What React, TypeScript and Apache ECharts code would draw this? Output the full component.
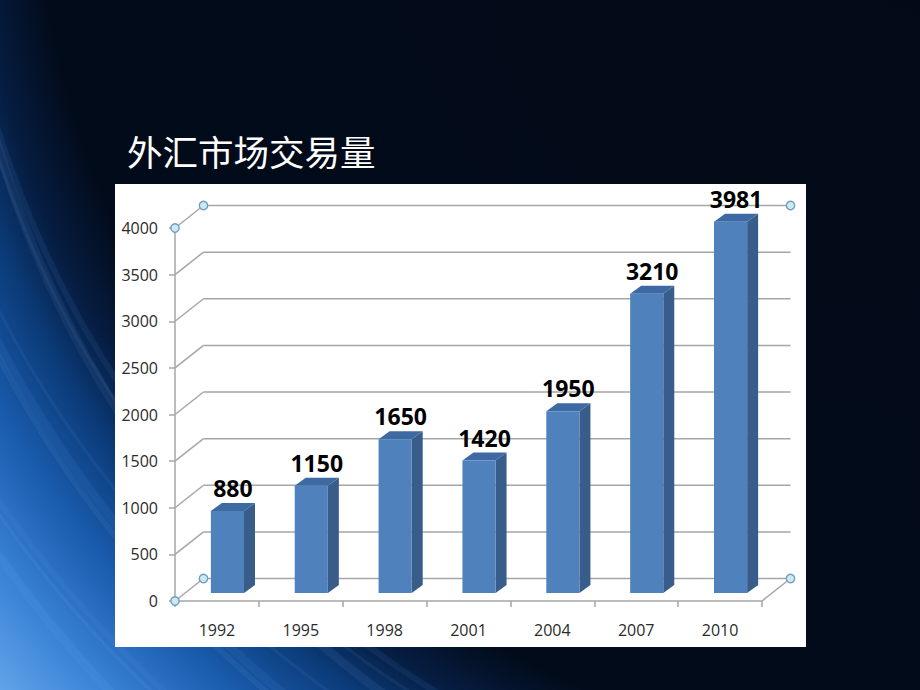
import React, { useEffect, useRef } from "react";
import * as echarts from "echarts";

// ---- data ----
const titleText = "外汇市场交易量";
const categories = ["1992", "1995", "1998", "2001", "2004", "2007", "2010"];
const volumes = [880, 1150, 1650, 1420, 1950, 3210, 3981];
const yTicks = [0, 500, 1000, 1500, 2000, 2500, 3000, 3500, 4000];
const yMin = 0;
const yMax = 4000;
const yStep = 500;

// ---- style constants ----
const BACK_DX = 28.5;
const BACK_DY = -22.5;
const BAR_DX = 10.5;
const BAR_DY = -8;
const BAR_DEPTH_X = 11;
const BAR_DEPTH_Y = -8;
const GRID_COLOR = "#a6a6a6";
const FRONT = "#4f81bd";
const SIDE = "#385d8a";
const TOP = "#3e6aa3";
const HANDLE_FILL = "#cfe9f4";
const HANDLE_STROKE = "#6f9fbf";
const TEXT_COLOR = "#2b2b2b";

const streakRadii = [1000, 1025, 1045, 1070, 1100, 1130, 1160, 1190, 1225, 1260];

export default function App() {
  const ref = useRef<HTMLDivElement>(null);

  useEffect(() => {
    document.body.style.margin = "0";
    const chart = echarts.init(ref.current!, undefined, { renderer: "svg" });

    const handle = (x: number, y: number) => ({
      type: "circle",
      shape: { cx: x, cy: y, r: 4.2 },
      style: { fill: HANDLE_FILL, stroke: HANDLE_STROKE, lineWidth: 1.4 },
      z2: 10,
    });

    const streaks = streakRadii.map((r, i) => ({
      type: "arc",
      z: -5,
      shape: {
        cx: 950 + (i % 3) * 25,
        cy: -150 - (i % 2) * 30,
        r,
        startAngle: Math.PI * 0.5,
        endAngle: Math.PI,
      },
      style: {
        stroke: i % 2 === 0 ? "rgba(140,195,255,0.08)" : "rgba(90,150,230,0.10)",
        lineWidth: 3 + (i % 3) * 3,
        fill: "none",
      },
      silent: true,
    }));

    const option: any = {
      animation: false,
      backgroundColor: new echarts.graphic.RadialGradient(
        950,
        -150,
        1270,
        [
          { offset: 0, color: "#020a17" },
          { offset: 0.72, color: "#020b1a" },
          { offset: 0.77, color: "#061d42" },
          { offset: 0.81, color: "#0b3b78" },
          { offset: 0.87, color: "#1a5cae" },
          { offset: 0.94, color: "#3b84d6" },
          { offset: 1, color: "#62a4ea" },
        ],
        true
      ),
      title: {
        text: titleText,
        left: 122,
        top: 128,
        textStyle: {
          color: "#ffffff",
          fontSize: 35.5,
          fontWeight: "normal",
          fontFamily: '"Noto Sans CJK SC", "Noto Sans", sans-serif',
        },
      },
      graphic: [
        ...streaks,
        {
          type: "rect",
          z: -1,
          shape: { x: 115, y: 184, width: 691, height: 463 },
          style: { fill: "#ffffff" },
          silent: true,
        },
      ],
      grid: { left: 175, top: 228, width: 587, height: 373, containLabel: false },
      xAxis: {
        type: "category",
        data: categories,
        boundaryGap: true,
        axisLine: { show: true, lineStyle: { color: GRID_COLOR, width: 1.5 } },
        axisTick: { show: true, length: 6, lineStyle: { color: GRID_COLOR, width: 1.5 } },
        axisLabel: {
          margin: 21,
          color: TEXT_COLOR,
          fontSize: 16,
          fontFamily: '"Open Sans", sans-serif',
        },
        splitLine: { show: false },
      },
      yAxis: {
        type: "value",
        min: yMin,
        max: yMax,
        interval: yStep,
        axisLine: { show: true, lineStyle: { color: GRID_COLOR, width: 1.5 } },
        axisTick: { show: true, length: 6, lineStyle: { color: GRID_COLOR, width: 1.5 } },
        axisLabel: {
          margin: 17,
          color: TEXT_COLOR,
          fontSize: 16,
          fontFamily: '"Open Sans", sans-serif',
          formatter: (v: number) => String(v),
        },
        splitLine: { show: false },
      },
      series: [
        {
          type: "custom",
          name: "walls",
          silent: true,
          encode: { x: 0, y: 1 },
          data: yTicks.map((v) => [0, v]),
          z: 1,
          renderItem: (params: any, api: any) => {
            const v = api.value(1);
            const cs = params.coordSys;
            const y = api.coord([0, v])[1];
            const x0 = cs.x;
            const x1 = cs.x + cs.width;
            const ls = { stroke: GRID_COLOR, lineWidth: 1.5 };
            const children: any[] = [
              { type: "line", shape: { x1: x0, y1: y, x2: x0 + BACK_DX, y2: y + BACK_DY }, style: ls },
              {
                type: "line",
                shape: { x1: x0 + BACK_DX, y1: y + BACK_DY, x2: x1 + BACK_DX, y2: y + BACK_DY },
                style: ls,
              },
            ];
            if (v === yMin) {
              children.push({
                type: "line",
                shape: { x1: x1, y1: y, x2: x1 + BACK_DX, y2: y + BACK_DY },
                style: ls,
              });
            }
            if (v === yMin || v === yMax) {
              children.push(handle(x0, y));
              children.push(handle(x0 + BACK_DX, y + BACK_DY));
              children.push(handle(x1 + BACK_DX, y + BACK_DY));
            }
            return { type: "group", children };
          },
        },
        {
          type: "custom",
          name: "外汇市场交易量",
          encode: { x: 0, y: 1 },
          data: volumes.map((v, i) => [i, v]),
          z: 3,
          renderItem: (params: any, api: any) => {
            const i = api.value(0);
            const v = api.value(1);
            const base = api.coord([i, 0]);
            const top = api.coord([i, v]);
            const band = api.size([1, 0])[0];
            const w = band * 0.395;
            const cx = base[0] + BAR_DX;
            const xl = cx - w / 2;
            const xr = cx + w / 2;
            const yb = base[1] + BAR_DY;
            const yt = top[1] + BAR_DY;
            return {
              type: "group",
              children: [
                {
                  type: "polygon",
                  shape: {
                    points: [
                      [xr, yt],
                      [xr + BAR_DEPTH_X, yt + BAR_DEPTH_Y],
                      [xr + BAR_DEPTH_X, yb + BAR_DEPTH_Y],
                      [xr, yb],
                    ],
                  },
                  style: { fill: SIDE },
                },
                {
                  type: "polygon",
                  shape: {
                    points: [
                      [xl, yt],
                      [xl + BAR_DEPTH_X, yt + BAR_DEPTH_Y],
                      [xr + BAR_DEPTH_X, yt + BAR_DEPTH_Y],
                      [xr, yt],
                    ],
                  },
                  style: { fill: TOP },
                },
                {
                  type: "rect",
                  shape: { x: xl, y: yt, width: w, height: yb - yt },
                  style: { fill: FRONT },
                },
                {
                  type: "text",
                  style: {
                    text: String(v),
                    x: (xl + xr + BAR_DEPTH_X) / 2,
                    y: yt + BAR_DEPTH_Y - 15,
                    fill: "#000000",
                    font: 'bold 23px "Open Sans", sans-serif',
                    align: "center",
                    verticalAlign: "middle",
                  },
                },
              ],
            };
          },
        },
      ],
    };

    chart.setOption(option);
    return () => chart.dispose();
  }, []);

  return <div ref={ref} style={{ width: 920, height: 690 }} />;
}
